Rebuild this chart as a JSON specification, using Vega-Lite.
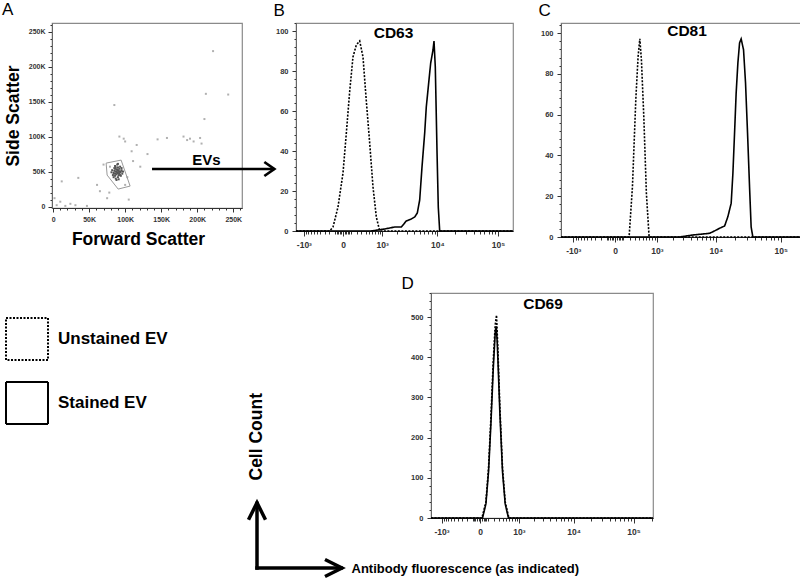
{
  "$schema": "https://vega.github.io/schema/vega-lite/v6.json",
  "background": "white",
  "padding": {"left": 1, "top": 0, "right": 0, "bottom": 0},
  "config": {
    "font": "Liberation Sans",
    "view": {"stroke": "#8a8a8a", "strokeWidth": 1.2},
    "axis": {"grid": false, "domainColor": "#666", "tickColor": "#333", "labelFont": "Liberation Sans", "labelFontWeight": "bold", "labelColor": "#333", "labelOverlap": false, "labelBound": false, "labelFlush": false, "titleFont": "Liberation Sans", "titleFontWeight": "bold", "titleColor": "black"},
    "title": {"font": "Liberation Sans", "color": "black"}
  },
  "datasets": {
    "scatter": [
      {"fsc": 82000, "ssc": 52000, "grp": "gated"}, {"fsc": 84000, "ssc": 48000, "grp": "gated"}, {"fsc": 85000, "ssc": 55000, "grp": "gated"},
      {"fsc": 86000, "ssc": 44000, "grp": "gated"}, {"fsc": 87000, "ssc": 50000, "grp": "gated"}, {"fsc": 88000, "ssc": 53000, "grp": "gated"},
      {"fsc": 88000, "ssc": 46000, "grp": "gated"}, {"fsc": 89000, "ssc": 49000, "grp": "gated"}, {"fsc": 90000, "ssc": 56000, "grp": "gated"},
      {"fsc": 90000, "ssc": 42000, "grp": "gated"}, {"fsc": 91000, "ssc": 51000, "grp": "gated"}, {"fsc": 92000, "ssc": 47000, "grp": "gated"},
      {"fsc": 92000, "ssc": 54000, "grp": "gated"}, {"fsc": 93000, "ssc": 45000, "grp": "gated"}, {"fsc": 94000, "ssc": 50000, "grp": "gated"},
      {"fsc": 95000, "ssc": 52000, "grp": "gated"}, {"fsc": 86000, "ssc": 58000, "grp": "gated"}, {"fsc": 84000, "ssc": 42000, "grp": "gated"},
      {"fsc": 89000, "ssc": 60000, "grp": "gated"}, {"fsc": 91000, "ssc": 39000, "grp": "gated"}, {"fsc": 96000, "ssc": 47000, "grp": "gated"},
      {"fsc": 87000, "ssc": 40000, "grp": "gated"}, {"fsc": 83000, "ssc": 45000, "grp": "gated"}, {"fsc": 93000, "ssc": 57000, "grp": "gated"},
      {"fsc": 85000, "ssc": 51000, "grp": "gated"}, {"fsc": 90000, "ssc": 48000, "grp": "gated"}, {"fsc": 88000, "ssc": 50000, "grp": "gated"},
      {"fsc": 92000, "ssc": 50000, "grp": "gated"}, {"fsc": 87000, "ssc": 47000, "grp": "gated"}, {"fsc": 89000, "ssc": 53000, "grp": "gated"},
      {"fsc": 94000, "ssc": 44000, "grp": "gated"}, {"fsc": 86000, "ssc": 54000, "grp": "gated"}, {"fsc": 91000, "ssc": 45000, "grp": "gated"},
      {"fsc": 95000, "ssc": 55000, "grp": "gated"}, {"fsc": 81000, "ssc": 49000, "grp": "gated"}, {"fsc": 97000, "ssc": 50000, "grp": "gated"},
      {"fsc": 90000, "ssc": 61000, "grp": "gated"}, {"fsc": 88000, "ssc": 38000, "grp": "gated"}, {"fsc": 93000, "ssc": 49000, "grp": "gated"},
      {"fsc": 85000, "ssc": 47000, "grp": "gated"}, {"fsc": 90000, "ssc": 52000, "grp": "gated"}, {"fsc": 87000, "ssc": 56000, "grp": "gated"},
      {"fsc": 222000, "ssc": 222000, "grp": "other"}, {"fsc": 212000, "ssc": 161000, "grp": "other"}, {"fsc": 243000, "ssc": 160000, "grp": "other"},
      {"fsc": 210000, "ssc": 125000, "grp": "other"}, {"fsc": 85000, "ssc": 145000, "grp": "other"}, {"fsc": 92000, "ssc": 100000, "grp": "other"},
      {"fsc": 100000, "ssc": 93000, "grp": "other"}, {"fsc": 116000, "ssc": 88000, "grp": "other"}, {"fsc": 181000, "ssc": 100000, "grp": "other"},
      {"fsc": 186000, "ssc": 95000, "grp": "other"}, {"fsc": 195000, "ssc": 93000, "grp": "other"}, {"fsc": 204000, "ssc": 98000, "grp": "other"},
      {"fsc": 206000, "ssc": 90000, "grp": "other"}, {"fsc": 158000, "ssc": 98000, "grp": "other"}, {"fsc": 111000, "ssc": 65000, "grp": "other"},
      {"fsc": 121000, "ssc": 57000, "grp": "other"}, {"fsc": 35000, "ssc": 41000, "grp": "other"}, {"fsc": 12000, "ssc": 36000, "grp": "other"},
      {"fsc": 75000, "ssc": 12000, "grp": "other"}, {"fsc": 65000, "ssc": 22000, "grp": "other"}, {"fsc": 105000, "ssc": 10000, "grp": "other"},
      {"fsc": 17000, "ssc": 1000, "grp": "other"}, {"fsc": 5000, "ssc": 2000, "grp": "other"}, {"fsc": 10000, "ssc": 7000, "grp": "other"},
      {"fsc": 47000, "ssc": 1000, "grp": "other"}, {"fsc": 31000, "ssc": 2000, "grp": "other"}, {"fsc": 79000, "ssc": 57000, "grp": "other"},
      {"fsc": 109000, "ssc": 79000, "grp": "other"}, {"fsc": 61000, "ssc": 31000, "grp": "other"}, {"fsc": 190000, "ssc": 97000, "grp": "other"},
      {"fsc": 100000, "ssc": 31000, "grp": "other"}, {"fsc": 70000, "ssc": 60000, "grp": "other"}, {"fsc": 131000, "ssc": 75000, "grp": "other"},
      {"fsc": 98000, "ssc": 97000, "grp": "other"}, {"fsc": 103000, "ssc": 42000, "grp": "other"}, {"fsc": 78000, "ssc": 20000, "grp": "other"},
      {"fsc": 2000, "ssc": 12000, "grp": "other"}, {"fsc": 24000, "ssc": 4000, "grp": "other"}, {"fsc": 145000, "ssc": 96000, "grp": "other"}
    ],
    "gate": [
      {"v": 1, "fsc": 73600, "ssc": 62100}, {"v": 2, "fsc": 94400, "ssc": 66400}, {"v": 3, "fsc": 106900, "ssc": 29300},
      {"v": 4, "fsc": 90300, "ssc": 25000}, {"v": 5, "fsc": 75000, "ssc": 45000}, {"v": 6, "fsc": 73600, "ssc": 62100}
    ],
    "hist": [
      {"panel": "CD63", "stain": "Unstained EV", "fl": -1448, "count": 0},
      {"panel": "CD63", "stain": "Unstained EV", "fl": -194, "count": 0},
      {"panel": "CD63", "stain": "Unstained EV", "fl": -136, "count": 2},
      {"panel": "CD63", "stain": "Unstained EV", "fl": -62, "count": 12},
      {"panel": "CD63", "stain": "Unstained EV", "fl": 0, "count": 29},
      {"panel": "CD63", "stain": "Unstained EV", "fl": 40, "count": 49},
      {"panel": "CD63", "stain": "Unstained EV", "fl": 86, "count": 70},
      {"panel": "CD63", "stain": "Unstained EV", "fl": 136, "count": 87},
      {"panel": "CD63", "stain": "Unstained EV", "fl": 194, "count": 93},
      {"panel": "CD63", "stain": "Unstained EV", "fl": 261, "count": 95},
      {"panel": "CD63", "stain": "Unstained EV", "fl": 335, "count": 87},
      {"panel": "CD63", "stain": "Unstained EV", "fl": 419, "count": 65},
      {"panel": "CD63", "stain": "Unstained EV", "fl": 516, "count": 44},
      {"panel": "CD63", "stain": "Unstained EV", "fl": 624, "count": 22},
      {"panel": "CD63", "stain": "Unstained EV", "fl": 746, "count": 7},
      {"panel": "CD63", "stain": "Unstained EV", "fl": 888, "count": 0},
      {"panel": "CD63", "stain": "Unstained EV", "fl": 175700, "count": 0},
      {"panel": "CD63", "stain": "Stained EV", "fl": -1448, "count": 0},
      {"panel": "CD63", "stain": "Stained EV", "fl": 557, "count": 0},
      {"panel": "CD63", "stain": "Stained EV", "fl": 1133, "count": 1},
      {"panel": "CD63", "stain": "Stained EV", "fl": 1784, "count": 2},
      {"panel": "CD63", "stain": "Stained EV", "fl": 2370, "count": 2},
      {"panel": "CD63", "stain": "Stained EV", "fl": 2919, "count": 5},
      {"panel": "CD63", "stain": "Stained EV", "fl": 3585, "count": 6},
      {"panel": "CD63", "stain": "Stained EV", "fl": 4113, "count": 7},
      {"panel": "CD63", "stain": "Stained EV", "fl": 4564, "count": 9},
      {"panel": "CD63", "stain": "Stained EV", "fl": 5022, "count": 15.5},
      {"panel": "CD63", "stain": "Stained EV", "fl": 5502, "count": 32},
      {"panel": "CD63", "stain": "Stained EV", "fl": 6117, "count": 49},
      {"panel": "CD63", "stain": "Stained EV", "fl": 6514, "count": 62},
      {"panel": "CD63", "stain": "Stained EV", "fl": 7155, "count": 74},
      {"panel": "CD63", "stain": "Stained EV", "fl": 7737, "count": 84},
      {"panel": "CD63", "stain": "Stained EV", "fl": 8466, "count": 90.5},
      {"panel": "CD63", "stain": "Stained EV", "fl": 8799, "count": 95},
      {"panel": "CD63", "stain": "Stained EV", "fl": 9255, "count": 82},
      {"panel": "CD63", "stain": "Stained EV", "fl": 9885, "count": 40},
      {"panel": "CD63", "stain": "Stained EV", "fl": 10386, "count": 12},
      {"panel": "CD63", "stain": "Stained EV", "fl": 10965, "count": 0},
      {"panel": "CD63", "stain": "Stained EV", "fl": 175700, "count": 0},
      {"panel": "CD81", "stain": "Unstained EV", "fl": -1700, "count": 0},
      {"panel": "CD81", "stain": "Unstained EV", "fl": 191, "count": 0},
      {"panel": "CD81", "stain": "Unstained EV", "fl": 252, "count": 24.7},
      {"panel": "CD81", "stain": "Unstained EV", "fl": 321, "count": 67.4},
      {"panel": "CD81", "stain": "Unstained EV", "fl": 373, "count": 88.6},
      {"panel": "CD81", "stain": "Unstained EV", "fl": 415, "count": 97.2},
      {"panel": "CD81", "stain": "Unstained EV", "fl": 456, "count": 87},
      {"panel": "CD81", "stain": "Unstained EV", "fl": 522, "count": 59.1},
      {"panel": "CD81", "stain": "Unstained EV", "fl": 600, "count": 21.5},
      {"panel": "CD81", "stain": "Unstained EV", "fl": 690, "count": 0},
      {"panel": "CD81", "stain": "Unstained EV", "fl": 204060, "count": 0},
      {"panel": "CD81", "stain": "Stained EV", "fl": -1700, "count": 0},
      {"panel": "CD81", "stain": "Stained EV", "fl": 2598, "count": 0},
      {"panel": "CD81", "stain": "Stained EV", "fl": 4317, "count": 1},
      {"panel": "CD81", "stain": "Stained EV", "fl": 7980, "count": 1.8},
      {"panel": "CD81", "stain": "Stained EV", "fl": 9570, "count": 3},
      {"panel": "CD81", "stain": "Stained EV", "fl": 11460, "count": 4.3},
      {"panel": "CD81", "stain": "Stained EV", "fl": 13710, "count": 5.4},
      {"panel": "CD81", "stain": "Stained EV", "fl": 15420, "count": 10},
      {"panel": "CD81", "stain": "Stained EV", "fl": 17340, "count": 16.6},
      {"panel": "CD81", "stain": "Stained EV", "fl": 18420, "count": 31},
      {"panel": "CD81", "stain": "Stained EV", "fl": 19560, "count": 51},
      {"panel": "CD81", "stain": "Stained EV", "fl": 20700, "count": 70.6},
      {"panel": "CD81", "stain": "Stained EV", "fl": 22020, "count": 85.4},
      {"panel": "CD81", "stain": "Stained EV", "fl": 23370, "count": 95.2},
      {"panel": "CD81", "stain": "Stained EV", "fl": 24720, "count": 97.2},
      {"panel": "CD81", "stain": "Stained EV", "fl": 26910, "count": 91.9},
      {"panel": "CD81", "stain": "Stained EV", "fl": 28890, "count": 75.6},
      {"panel": "CD81", "stain": "Stained EV", "fl": 31020, "count": 51},
      {"panel": "CD81", "stain": "Stained EV", "fl": 33300, "count": 24.7},
      {"panel": "CD81", "stain": "Stained EV", "fl": 35220, "count": 5},
      {"panel": "CD81", "stain": "Stained EV", "fl": 37410, "count": 0},
      {"panel": "CD81", "stain": "Stained EV", "fl": 204060, "count": 0},
      {"panel": "CD69", "stain": "Unstained EV", "fl": -1639, "count": 0},
      {"panel": "CD69", "stain": "Unstained EV", "fl": 20, "count": 0},
      {"panel": "CD69", "stain": "Unstained EV", "fl": 72, "count": 40},
      {"panel": "CD69", "stain": "Unstained EV", "fl": 111, "count": 125},
      {"panel": "CD69", "stain": "Unstained EV", "fl": 150, "count": 250},
      {"panel": "CD69", "stain": "Unstained EV", "fl": 191, "count": 390},
      {"panel": "CD69", "stain": "Unstained EV", "fl": 229, "count": 480},
      {"panel": "CD69", "stain": "Unstained EV", "fl": 256, "count": 505},
      {"panel": "CD69", "stain": "Unstained EV", "fl": 286, "count": 420},
      {"panel": "CD69", "stain": "Unstained EV", "fl": 332, "count": 275},
      {"panel": "CD69", "stain": "Unstained EV", "fl": 398, "count": 125},
      {"panel": "CD69", "stain": "Unstained EV", "fl": 473, "count": 40},
      {"panel": "CD69", "stain": "Unstained EV", "fl": 590, "count": 0},
      {"panel": "CD69", "stain": "Unstained EV", "fl": 209200, "count": 0},
      {"panel": "CD69", "stain": "Stained EV", "fl": -1639, "count": 0},
      {"panel": "CD69", "stain": "Stained EV", "fl": 27, "count": 0},
      {"panel": "CD69", "stain": "Stained EV", "fl": 72, "count": 35},
      {"panel": "CD69", "stain": "Stained EV", "fl": 111, "count": 115},
      {"panel": "CD69", "stain": "Stained EV", "fl": 150, "count": 235},
      {"panel": "CD69", "stain": "Stained EV", "fl": 191, "count": 370},
      {"panel": "CD69", "stain": "Stained EV", "fl": 229, "count": 460},
      {"panel": "CD69", "stain": "Stained EV", "fl": 250, "count": 477},
      {"panel": "CD69", "stain": "Stained EV", "fl": 270, "count": 440},
      {"panel": "CD69", "stain": "Stained EV", "fl": 286, "count": 395},
      {"panel": "CD69", "stain": "Stained EV", "fl": 332, "count": 260},
      {"panel": "CD69", "stain": "Stained EV", "fl": 398, "count": 115},
      {"panel": "CD69", "stain": "Stained EV", "fl": 473, "count": 35},
      {"panel": "CD69", "stain": "Stained EV", "fl": 575, "count": 0},
      {"panel": "CD69", "stain": "Stained EV", "fl": 209200, "count": 0}
    ]
  },
  "vconcat": [
    {
      "spacing": -9,
      "hconcat": [
        {
          "width": 190, "height": 185,
          "layer": [
            {
              "data": {"name": "scatter"},
              "mark": {"type": "point", "shape": "square", "filled": true, "size": 4, "opacity": 1},
              "encoding": {
                "x": {"field": "fsc", "type": "quantitative", "scale": {"domain": [-1500, 262144], "nice": false, "zero": false},
                  "axis": {"values": [0,10000,20000,30000,40000,50000,60000,70000,80000,90000,100000,110000,120000,130000,140000,150000,160000,170000,180000,190000,200000,210000,220000,230000,240000,250000,260000], "labelExpr": "datum.value % 50000 === 0 ? (datum.value === 0 ? '0' : (datum.value / 1000) + 'K') : ''", "labelOverlap": false, "tickSize": {"condition": {"test": "datum.value % 50000 === 0", "value": 4}, "value": 2}, "labelFontSize": 7, "labelPadding": 3, "labelColor": "#333", "title": "Forward Scatter", "titleFontSize": 17.5, "titlePadding": 8, "titleX": 86, "domainColor": "#333"}},
                "y": {"field": "ssc", "type": "quantitative", "scale": {"domain": [-2000, 262144], "nice": false, "zero": false},
                  "axis": {"values": [0,10000,20000,30000,40000,50000,60000,70000,80000,90000,100000,110000,120000,130000,140000,150000,160000,170000,180000,190000,200000,210000,220000,230000,240000,250000,260000], "labelExpr": "datum.value % 50000 === 0 ? (datum.value === 0 ? '0' : (datum.value / 1000) + 'K') : ''", "labelOverlap": false, "tickSize": {"condition": {"test": "datum.value % 50000 === 0", "value": 4}, "value": 2}, "labelFontSize": 7, "labelPadding": 3, "labelColor": "#333", "title": "Side Scatter", "titleFontSize": 17.5, "titlePadding": 6}},
                "color": {"field": "grp", "type": "nominal", "scale": {"domain": ["gated", "other"], "range": ["#555555", "#b0b0b0"]}, "legend": null}
              }
            },
            {
              "data": {"name": "gate"},
              "mark": {"type": "line", "color": "#9a9a9a", "strokeWidth": 1},
              "encoding": {
                "x": {"field": "fsc", "type": "quantitative", "scale": {"domain": [-1500, 262144], "nice": false, "zero": false},
                  "axis": {"values": [0,10000,20000,30000,40000,50000,60000,70000,80000,90000,100000,110000,120000,130000,140000,150000,160000,170000,180000,190000,200000,210000,220000,230000,240000,250000,260000], "labelExpr": "datum.value % 50000 === 0 ? (datum.value === 0 ? '0' : (datum.value / 1000) + 'K') : ''", "labelOverlap": false, "tickSize": {"condition": {"test": "datum.value % 50000 === 0", "value": 4}, "value": 2}, "labelFontSize": 7, "labelPadding": 3, "labelColor": "#333", "title": "Forward Scatter", "titleFontSize": 17.5, "titlePadding": 8, "titleX": 86, "domainColor": "#333"}},
                "y": {"field": "ssc", "type": "quantitative", "scale": {"domain": [-2000, 262144], "nice": false, "zero": false},
                  "axis": {"values": [0,10000,20000,30000,40000,50000,60000,70000,80000,90000,100000,110000,120000,130000,140000,150000,160000,170000,180000,190000,200000,210000,220000,230000,240000,250000,260000], "labelExpr": "datum.value % 50000 === 0 ? (datum.value === 0 ? '0' : (datum.value / 1000) + 'K') : ''", "labelOverlap": false, "tickSize": {"condition": {"test": "datum.value % 50000 === 0", "value": 4}, "value": 2}, "labelFontSize": 7, "labelPadding": 3, "labelColor": "#333", "title": "Side Scatter", "titleFontSize": 17.5, "titlePadding": 6}},
                "order": {"field": "v", "type": "quantitative"}
              }
            },
            {
              "data": {"values": [{}]},
              "mark": {"type": "rule", "color": "black", "strokeWidth": 2.7},
              "encoding": {
                "x": {"datum": 137300, "type": "quantitative", "scale": {"domain": [-1500, 262144], "nice": false, "zero": false},
                  "axis": {"values": [0,10000,20000,30000,40000,50000,60000,70000,80000,90000,100000,110000,120000,130000,140000,150000,160000,170000,180000,190000,200000,210000,220000,230000,240000,250000,260000], "labelExpr": "datum.value % 50000 === 0 ? (datum.value === 0 ? '0' : (datum.value / 1000) + 'K') : ''", "labelOverlap": false, "tickSize": {"condition": {"test": "datum.value % 50000 === 0", "value": 4}, "value": 2}, "labelFontSize": 7, "labelPadding": 3, "labelColor": "#333", "title": "Forward Scatter", "titleFontSize": 17.5, "titlePadding": 8, "titleX": 86, "domainColor": "#333"}},
                "x2": {"datum": 307000},
                "y": {"datum": 53700, "type": "quantitative", "scale": {"domain": [-2000, 262144], "nice": false, "zero": false},
                  "axis": {"values": [0,10000,20000,30000,40000,50000,60000,70000,80000,90000,100000,110000,120000,130000,140000,150000,160000,170000,180000,190000,200000,210000,220000,230000,240000,250000,260000], "labelExpr": "datum.value % 50000 === 0 ? (datum.value === 0 ? '0' : (datum.value / 1000) + 'K') : ''", "labelOverlap": false, "tickSize": {"condition": {"test": "datum.value % 50000 === 0", "value": 4}, "value": 2}, "labelFontSize": 7, "labelPadding": 3, "labelColor": "#333", "title": "Side Scatter", "titleFontSize": 17.5, "titlePadding": 6}}
              }
            },
            {
              "data": {"values": [{}]},
              "mark": {"type": "point", "shape": "M-1,-0.7L0,0L-1,0.7", "size": 400, "filled": false, "stroke": "black", "strokeWidth": 2.7, "opacity": 1},
              "encoding": {
                "x": {"datum": 307000, "type": "quantitative", "scale": {"domain": [-1500, 262144], "nice": false, "zero": false},
                  "axis": {"values": [0,10000,20000,30000,40000,50000,60000,70000,80000,90000,100000,110000,120000,130000,140000,150000,160000,170000,180000,190000,200000,210000,220000,230000,240000,250000,260000], "labelExpr": "datum.value % 50000 === 0 ? (datum.value === 0 ? '0' : (datum.value / 1000) + 'K') : ''", "labelOverlap": false, "tickSize": {"condition": {"test": "datum.value % 50000 === 0", "value": 4}, "value": 2}, "labelFontSize": 7, "labelPadding": 3, "labelColor": "#333", "title": "Forward Scatter", "titleFontSize": 17.5, "titlePadding": 8, "titleX": 86, "domainColor": "#333"}},
                "y": {"datum": 53700, "type": "quantitative", "scale": {"domain": [-2000, 262144], "nice": false, "zero": false},
                  "axis": {"values": [0,10000,20000,30000,40000,50000,60000,70000,80000,90000,100000,110000,120000,130000,140000,150000,160000,170000,180000,190000,200000,210000,220000,230000,240000,250000,260000], "labelExpr": "datum.value % 50000 === 0 ? (datum.value === 0 ? '0' : (datum.value / 1000) + 'K') : ''", "labelOverlap": false, "tickSize": {"condition": {"test": "datum.value % 50000 === 0", "value": 4}, "value": 2}, "labelFontSize": 7, "labelPadding": 3, "labelColor": "#333", "title": "Side Scatter", "titleFontSize": 17.5, "titlePadding": 6}}
              }
            },
            {
              "data": {"values": [{}]},
              "mark": {"type": "text", "text": "EVs", "fontSize": 15, "fontWeight": "bold", "align": "center", "baseline": "middle"},
              "encoding": {
                "x": {"datum": 212880, "type": "quantitative", "scale": {"domain": [-1500, 262144], "nice": false, "zero": false},
                  "axis": {"values": [0,10000,20000,30000,40000,50000,60000,70000,80000,90000,100000,110000,120000,130000,140000,150000,160000,170000,180000,190000,200000,210000,220000,230000,240000,250000,260000], "labelExpr": "datum.value % 50000 === 0 ? (datum.value === 0 ? '0' : (datum.value / 1000) + 'K') : ''", "labelOverlap": false, "tickSize": {"condition": {"test": "datum.value % 50000 === 0", "value": 4}, "value": 2}, "labelFontSize": 7, "labelPadding": 3, "labelColor": "#333", "title": "Forward Scatter", "titleFontSize": 17.5, "titlePadding": 8, "titleX": 86, "domainColor": "#333"}},
                "y": {"datum": 66000, "type": "quantitative", "scale": {"domain": [-2000, 262144], "nice": false, "zero": false},
                  "axis": {"values": [0,10000,20000,30000,40000,50000,60000,70000,80000,90000,100000,110000,120000,130000,140000,150000,160000,170000,180000,190000,200000,210000,220000,230000,240000,250000,260000], "labelExpr": "datum.value % 50000 === 0 ? (datum.value === 0 ? '0' : (datum.value / 1000) + 'K') : ''", "labelOverlap": false, "tickSize": {"condition": {"test": "datum.value % 50000 === 0", "value": 4}, "value": 2}, "labelFontSize": 7, "labelPadding": 3, "labelColor": "#333", "title": "Side Scatter", "titleFontSize": 17.5, "titlePadding": 6}}
              }
            },
            {
              "data": {"values": [{}]},
              "mark": {"type": "text", "text": "A", "fontSize": 17, "fontWeight": "normal", "align": "left", "baseline": "alphabetic"},
              "encoding": {
                "x": {"datum": -70880, "type": "quantitative", "scale": {"domain": [-1500, 262144], "nice": false, "zero": false},
                  "axis": {"values": [0,10000,20000,30000,40000,50000,60000,70000,80000,90000,100000,110000,120000,130000,140000,150000,160000,170000,180000,190000,200000,210000,220000,230000,240000,250000,260000], "labelExpr": "datum.value % 50000 === 0 ? (datum.value === 0 ? '0' : (datum.value / 1000) + 'K') : ''", "labelOverlap": false, "tickSize": {"condition": {"test": "datum.value % 50000 === 0", "value": 4}, "value": 2}, "labelFontSize": 7, "labelPadding": 3, "labelColor": "#333", "title": "Forward Scatter", "titleFontSize": 17.5, "titlePadding": 8, "titleX": 86, "domainColor": "#333"}},
                "y": {"datum": 273574, "type": "quantitative", "scale": {"domain": [-2000, 262144], "nice": false, "zero": false},
                  "axis": {"values": [0,10000,20000,30000,40000,50000,60000,70000,80000,90000,100000,110000,120000,130000,140000,150000,160000,170000,180000,190000,200000,210000,220000,230000,240000,250000,260000], "labelExpr": "datum.value % 50000 === 0 ? (datum.value === 0 ? '0' : (datum.value / 1000) + 'K') : ''", "labelOverlap": false, "tickSize": {"condition": {"test": "datum.value % 50000 === 0", "value": 4}, "value": 2}, "labelFontSize": 7, "labelPadding": 3, "labelColor": "#333", "title": "Side Scatter", "titleFontSize": 17.5, "titlePadding": 6}}
              }
            }
          ]
        },
        {
          "spacing": 20,
          "hconcat": [
            {
              "width": 217, "height": 208,
              "title": {"text": "CD63", "fontSize": 15.5, "fontWeight": "bold", "anchor": "middle", "frame": "group", "dx": -11, "offset": -52.5, "baseline": "alphabetic"},
              "data": {"name": "hist"},
              "transform": [{"filter": "datum.panel === 'CD63'"}],
              "mark": {"type": "line", "color": "black", "strokeWidth": 1.6},
              "encoding": {
                "x": {"field": "fl", "type": "quantitative", "scale": {"type": "symlog", "constant": 300, "domain": [-1448, 175700], "nice": false, "zero": false},
                  "axis": {"values": [-1000,-900,-800,-700,-600,-500,-400,-300,-200,-100,-80,-60,-40,-20,0,20,40,60,80,100,200,300,400,500,600,700,800,900,1000,2000,3000,4000,5000,6000,7000,8000,9000,10000,20000,30000,40000,50000,60000,70000,80000,90000,100000],
                    "labelExpr": "datum.value === 0 ? '0' : datum.value === 1000 ? '10³' : datum.value === -1000 ? '-10³' : datum.value === 10000 ? '10⁴' : datum.value === 100000 ? '10⁵' : ''",
                    "labelOverlap": false,
                    "tickSize": {"condition": {"test": "indexof([-1000,0,1000,10000,100000], datum.value) >= 0", "value": 5}, "value": 3},
                    "labelFontSize": 8.5, "labelPadding": 4, "title": null, "domainColor": "#222"}},
                "y": {"field": "count", "type": "quantitative", "scale": {"domain": [0, 104], "nice": false, "zero": false},
                  "axis": {"values": [0,4,8,12,16,20,24,28,32,36,40,44,48,52,56,60,64,68,72,76,80,84,88,92,96,100,104],
                    "labelExpr": "datum.value % 20 === 0 ? datum.value : ''",
                    "labelOverlap": false,
                    "tickSize": {"condition": {"test": "datum.value % 20 === 0", "value": 4}, "value": 2},
                    "labelFontSize": 7.5, "labelPadding": 4,
                    "title": "B", "titleAngle": 0, "titleX": -23, "titleY": -8, "titleAlign": "left", "titleBaseline": "alphabetic", "titleFontSize": 17, "titleFontWeight": "normal"}},
                "strokeDash": {"field": "stain", "type": "nominal",
                  "scale": {"domain": ["Unstained EV", "Stained EV"], "range": [[2, 1.5], [1, 0]]},
                  "legend": {"orient": "none", "legendX": -47, "legendY": 294, "title": null, "symbolType": "square", "symbolSize": 1764, "symbolStrokeWidth": 2, "symbolStrokeColor": "black", "symbolFillColor": "white", "labelFontSize": 17, "labelFontWeight": "bold", "labelColor": "black", "labelFont": "Liberation Sans", "labelOffset": 9, "rowPadding": 14, "padding": 0, "offset": 0, "direction": "vertical",
                    "encode": {"symbols": {"update": {"strokeDash": {"signal": "datum.value === 'Unstained EV' ? [6, 3] : [1, 0]"}}}}}}
              }
            },
            {
              "width": 240, "height": 214,
              "title": {"text": "CD81", "fontSize": 15.5, "fontWeight": "bold", "anchor": "middle", "frame": "group", "dx": 6, "offset": -50.5, "baseline": "alphabetic"},
              "data": {"name": "hist"},
              "transform": [{"filter": "datum.panel === 'CD81'"}],
              "mark": {"type": "line", "color": "black", "strokeWidth": 1.6},
              "encoding": {
                "x": {"field": "fl", "type": "quantitative", "scale": {"type": "symlog", "constant": 300, "domain": [-1700, 204060], "nice": false, "zero": false},
                  "axis": {"values": [-1000,-900,-800,-700,-600,-500,-400,-300,-200,-100,-80,-60,-40,-20,0,20,40,60,80,100,200,300,400,500,600,700,800,900,1000,2000,3000,4000,5000,6000,7000,8000,9000,10000,20000,30000,40000,50000,60000,70000,80000,90000,100000,200000],
                    "labelExpr": "datum.value === 0 ? '0' : datum.value === 1000 ? '10³' : datum.value === -1000 ? '-10³' : datum.value === 10000 ? '10⁴' : datum.value === 100000 ? '10⁵' : ''",
                    "labelOverlap": false,
                    "tickSize": {"condition": {"test": "indexof([-1000,0,1000,10000,100000], datum.value) >= 0", "value": 5}, "value": 3},
                    "labelFontSize": 8.5, "labelPadding": 4, "title": null, "domainColor": "#222"}},
                "y": {"field": "count", "type": "quantitative", "scale": {"domain": [0, 105], "nice": false, "zero": false},
                  "axis": {"values": [0,4,8,12,16,20,24,28,32,36,40,44,48,52,56,60,64,68,72,76,80,84,88,92,96,100,104],
                    "labelExpr": "datum.value % 20 === 0 ? datum.value : ''",
                    "labelOverlap": false,
                    "tickSize": {"condition": {"test": "datum.value % 20 === 0", "value": 4}, "value": 2},
                    "labelFontSize": 7.5, "labelPadding": 4,
                    "title": "C", "titleAngle": 0, "titleX": -23, "titleY": -8, "titleAlign": "left", "titleBaseline": "alphabetic", "titleFontSize": 17, "titleFontWeight": "normal"}},
                "strokeDash": {"field": "stain", "type": "nominal",
                  "scale": {"domain": ["Unstained EV", "Stained EV"], "range": [[2, 1.5], [1, 0]]},
                  "legend": {"orient": "none", "legendX": -47, "legendY": 294, "title": null, "symbolType": "square", "symbolSize": 1764, "symbolStrokeWidth": 2, "symbolStrokeColor": "black", "symbolFillColor": "white", "labelFontSize": 17, "labelFontWeight": "bold", "labelColor": "black", "labelFont": "Liberation Sans", "labelOffset": 9, "rowPadding": 14, "padding": 0, "offset": 0, "direction": "vertical",
                    "encode": {"symbols": {"update": {"strokeDash": {"signal": "datum.value === 'Unstained EV' ? [6, 3] : [1, 0]"}}}}}}
              }
            }
          ]
        }
      ]
    },
    {
      "spacing": 1,
      "hconcat": [
        {
          "width": 290, "height": 275,
          "view": {"stroke": null},
          "data": {"values": [{}]},
          "layer": [
            {
              "mark": {"type": "rule", "color": "black", "strokeWidth": 3.5, "strokeCap": "square"},
              "encoding": {
                "x": {"datum": 0, "type": "quantitative", "scale": {"domain": [-2.4118, 1], "nice": false, "zero": false}, "axis": null},
                "y": {"datum": 0, "type": "quantitative", "scale": {"domain": [0, 4.044], "nice": false, "zero": false}, "axis": null},
                "y2": {"datum": 0.95}
              }
            },
            {
              "mark": {"type": "rule", "color": "black", "strokeWidth": 3.5, "strokeCap": "square"},
              "encoding": {"x": {"datum": 0, "axis": null}, "x2": {"datum": 0.99}, "y": {"datum": 0, "axis": null}}
            },
            {
              "mark": {"type": "point", "shape": "M-0.5,1L0,0L0.5,1", "size": 1156, "filled": false, "stroke": "black", "strokeWidth": 3.5, "opacity": 1},
              "encoding": {"x": {"datum": 0, "axis": null}, "y": {"datum": 0.96, "axis": null}}
            },
            {
              "mark": {"type": "point", "shape": "M-1,-0.5L0,0L-1,0.5", "size": 1156, "filled": false, "stroke": "black", "strokeWidth": 3.5, "opacity": 1},
              "encoding": {"x": {"datum": 1, "axis": null}, "y": {"datum": 0, "axis": null}}
            },
            {
              "mark": {"type": "text", "text": "Cell Count", "angle": 270, "fontSize": 17.5, "fontWeight": "bold", "align": "center", "baseline": "middle"},
              "encoding": {"x": {"datum": 0, "axis": null}, "y": {"datum": 1.93, "axis": null}}
            }
          ]
        },
        {
          "width": 222, "height": 225,
          "title": {"text": "CD69", "fontSize": 15.5, "fontWeight": "bold", "anchor": "middle", "frame": "group", "dx": 1, "offset": -50.5, "baseline": "alphabetic"},
          "data": {"name": "hist"},
          "transform": [{"filter": "datum.panel === 'CD69'"}],
          "mark": {"type": "line", "color": "black", "strokeWidth": 1.6},
          "encoding": {
            "x": {"field": "fl", "type": "quantitative", "scale": {"type": "symlog", "constant": 300, "domain": [-1639, 209200], "nice": false, "zero": false},
              "axis": {"values": [-1000,-900,-800,-700,-600,-500,-400,-300,-200,-100,-80,-60,-40,-20,0,20,40,60,80,100,200,300,400,500,600,700,800,900,1000,2000,3000,4000,5000,6000,7000,8000,9000,10000,20000,30000,40000,50000,60000,70000,80000,90000,100000,200000],
                "labelExpr": "datum.value === 0 ? '0' : datum.value === 1000 ? '10³' : datum.value === -1000 ? '-10³' : datum.value === 10000 ? '10⁴' : datum.value === 100000 ? '10⁵' : ''",
                "labelOverlap": false,
                "tickSize": {"condition": {"test": "indexof([-1000,0,1000,10000,100000], datum.value) >= 0", "value": 5}, "value": 3},
                "labelFontSize": 8.5, "labelPadding": 4, "domainColor": "#222",
                "title": "Antibody fluorescence (as indicated)", "titleFontSize": 13, "titleX": -80, "titleY": 50, "titleAlign": "left", "titleBaseline": "middle", "titleAnchor": "start"}},
            "y": {"field": "count", "type": "quantitative", "scale": {"domain": [0, 560], "nice": false, "zero": false},
              "axis": {"values": [0,20,40,60,80,100,120,140,160,180,200,220,240,260,280,300,320,340,360,380,400,420,440,460,480,500,520,540,560],
                "labelExpr": "datum.value % 100 === 0 ? datum.value : ''",
                "labelOverlap": false,
                "tickSize": {"condition": {"test": "datum.value % 100 === 0", "value": 4}, "value": 2},
                "labelFontSize": 7.5, "labelPadding": 4,
                "title": "D", "titleAngle": 0, "titleX": -30, "titleY": -5, "titleAlign": "left", "titleBaseline": "alphabetic", "titleFontSize": 17, "titleFontWeight": "normal"}},
            "strokeDash": {"field": "stain", "type": "nominal",
              "scale": {"domain": ["Unstained EV", "Stained EV"], "range": [[2, 1.5], [1, 0]]},
              "legend": {"orient": "none", "legendX": -47, "legendY": 294, "title": null, "symbolType": "square", "symbolSize": 1764, "symbolStrokeWidth": 2, "symbolStrokeColor": "black", "symbolFillColor": "white", "labelFontSize": 17, "labelFontWeight": "bold", "labelColor": "black", "labelFont": "Liberation Sans", "labelOffset": 9, "rowPadding": 14, "padding": 0, "offset": 0, "direction": "vertical",
                "encode": {"symbols": {"update": {"strokeDash": {"signal": "datum.value === 'Unstained EV' ? [6, 3] : [1, 0]"}}}}}}
          }
        }
      ]
    }
  ],
  "spacing": 17
}
